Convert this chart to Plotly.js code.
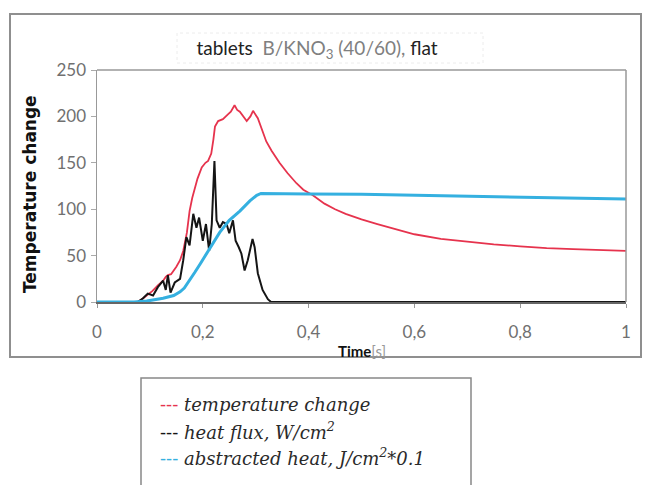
<!DOCTYPE html>
<html>
<head>
<meta charset="utf-8">
<script src="https://cdn.plot.ly/plotly-3.0.1.min.js"></script>
<style>html,body{margin:0;padding:0;background:#fff;}#chart{width:650px;height:485px;}</style>
</head>
<body>
<div id="chart"></div>
<script>
// ---- data ----
const tempX = [0,0.077,0.085,0.094,0.105,0.115,0.125,0.13,0.134,0.14,0.15,0.157,0.163,0.17,0.175,0.18,0.185,0.19,0.198,0.205,0.21,0.216,0.22,0.223,0.229,0.238,0.247,0.253,0.26,0.265,0.27,0.276,0.283,0.29,0.295,0.304,0.312,0.32,0.33,0.345,0.36,0.377,0.39,0.408,0.43,0.45,0.47,0.5,0.53,0.56,0.6,0.65,0.7,0.75,0.8,0.85,0.9,0.95,1.0];
const tempY = [0,0,3,7,12,18,23,27,29,30,38,45,55,75,98,112,123,133,145,150,152,160,175,189,195,197,202,205,212,207,205,200,195,200,206,198,186,173,163,150,139,128,121,115,106,100,95,89,84,79,73,68,65,62,60,58,57,56,55];

const fluxX = [0,0.077,0.087,0.096,0.106,0.115,0.125,0.13,0.134,0.139,0.147,0.157,0.163,0.169,0.175,0.182,0.188,0.193,0.2,0.206,0.212,0.217,0.222,0.226,0.232,0.238,0.245,0.25,0.257,0.262,0.268,0.273,0.279,0.285,0.294,0.298,0.304,0.313,0.323,0.329,0.5,0.7,1.0];
const fluxY = [0,0,4,9,7,16,23,13,29,10,21,25,45,70,61,95,80,91,66,84,55,84,152,88,80,86,84,74,88,66,59,52,34,45,68,59,31,13,3,0,0,0,0];

const heatX = [0,0.07,0.094,0.125,0.145,0.157,0.165,0.175,0.185,0.195,0.205,0.214,0.232,0.25,0.27,0.289,0.302,0.31,0.35,0.4,0.5,0.6,0.7,0.8,0.9,1.0];
const heatY = [0,0,1,4,7,11,15,23,32,41,50,59,75,88,98,109,115,117,117,116.5,116,115,114,113,112,111];

const seriesNames = ["temperature change", "heat flux, W/cm<sup>2</sup>", "abstracted heat, J/cm<sup>2</sup>*0.1"];
const xTicks = [0,0.2,0.4,0.6,0.8,1];
const yTicks = [0,50,100,150,200,250];

// ---- layout geometry (pixels) ----
const L = 97, R = 626, T = 70, B = 302;
const W = R - L, H = B - T;
const px = v => (v - L) / W;
const py = v => (B - v) / H;

const colors = ["#e6334d", "#151515", "#35b0e0"];

const traces = [
  {x: tempX, y: tempY, mode: "lines", line: {color: colors[0], width: 1.8}, hoverinfo: "skip"},
  {x: fluxX, y: fluxY, mode: "lines", line: {color: colors[1], width: 2}, hoverinfo: "skip"},
  {x: heatX, y: heatY, mode: "lines", line: {color: colors[2], width: 3}, hoverinfo: "skip"}
];

const legFont = {family: "DejaVu Serif", size: 18, color: "#2a2a2a"};
const legendYs = [404, 431, 457];
const annotations = seriesNames.map((n, i) => ({
  xref: "paper", yref: "paper", x: px(158), y: py(legendYs[i]),
  xanchor: "left", yanchor: "middle", showarrow: false,
  text: "<span style='color:" + colors[i] + "'>---</span> <i>" + n + "</i>",
  font: legFont
}));
annotations.push({
  xref: "paper", yref: "paper", x: px(30), y: py(194),
  xanchor: "center", yanchor: "middle", showarrow: false, textangle: -90,
  text: "<b>Temperature change</b>",
  font: {family: "DejaVu Sans", size: 17, color: "#111"}
});
annotations.push({
  xref: "paper", yref: "paper", x: px(362), y: py(351),
  xanchor: "center", yanchor: "middle", showarrow: false,
  text: "<b>Time</b><span style='color:#999'>[s]</span>",
  font: {family: "Lato", size: 15, color: "#111"}
});

const layout = {
  width: 650, height: 485,
  margin: {l: L, r: 650 - R, t: T, b: 485 - B, pad: 0},
  paper_bgcolor: "#fff", plot_bgcolor: "#fff",
  showlegend: false,
  separators: ", ",
  title: {
    text: "<span style='color:#222'>tablets</span>  <span style='color:#808080'>B/KNO<sub>3</sub> (40/60),</span> <span style='color:#222'>flat</span>",
    font: {family: "Lato", size: 19, color: "#222"},
    xref: "paper", x: px(317), xanchor: "center",
    yref: "container", y: 1 - 48 / 485, yanchor: "middle"
  },
  xaxis: {
    range: [0, 1], tickvals: xTicks, ticks: "outside", ticklen: 4, tickcolor: "#999",
    tickfont: {family: "Lato", size: 17, color: "#707070"}, ticklabelstandoff: 10,
    showgrid: false, zeroline: false, showline: true, linecolor: "#666", linewidth: 1.5, mirror: false
  },
  yaxis: {
    range: [0, 250], tickvals: yTicks, ticks: "outside", ticklen: 5, tickcolor: "#aaa",
    tickfont: {family: "Lato", size: 17, color: "#707070"}, ticklabelstandoff: 1,
    showgrid: false, zeroline: false, showline: true, linecolor: "#999", linewidth: 1.5
  },
  shapes: [
    {type: "line", xref: "paper", yref: "paper", x0: 0, x1: 1, y0: 1, y1: 1, line: {color: "#999", width: 1.5}},
    {type: "line", xref: "paper", yref: "paper", x0: 1, x1: 1, y0: 0, y1: 1, line: {color: "#999", width: 1.5}},
    {type: "rect", xref: "paper", yref: "paper", x0: px(10), x1: px(641), y0: py(357), y1: py(14), line: {color: "#8f8f8f", width: 2}},
    {type: "rect", xref: "paper", yref: "paper", x0: px(177), x1: px(483), y0: py(63), y1: py(33), line: {color: "#ececec", width: 1, dash: "dot"}, layer: "below"},
    {type: "rect", xref: "paper", yref: "paper", x0: px(141), x1: px(471), y0: py(492), y1: py(378), line: {color: "#888", width: 1.5}}
  ],
  annotations: annotations
};

Plotly.newPlot("chart", traces, layout, {staticPlot: true, displayModeBar: false});
</script>
</body>
</html>
